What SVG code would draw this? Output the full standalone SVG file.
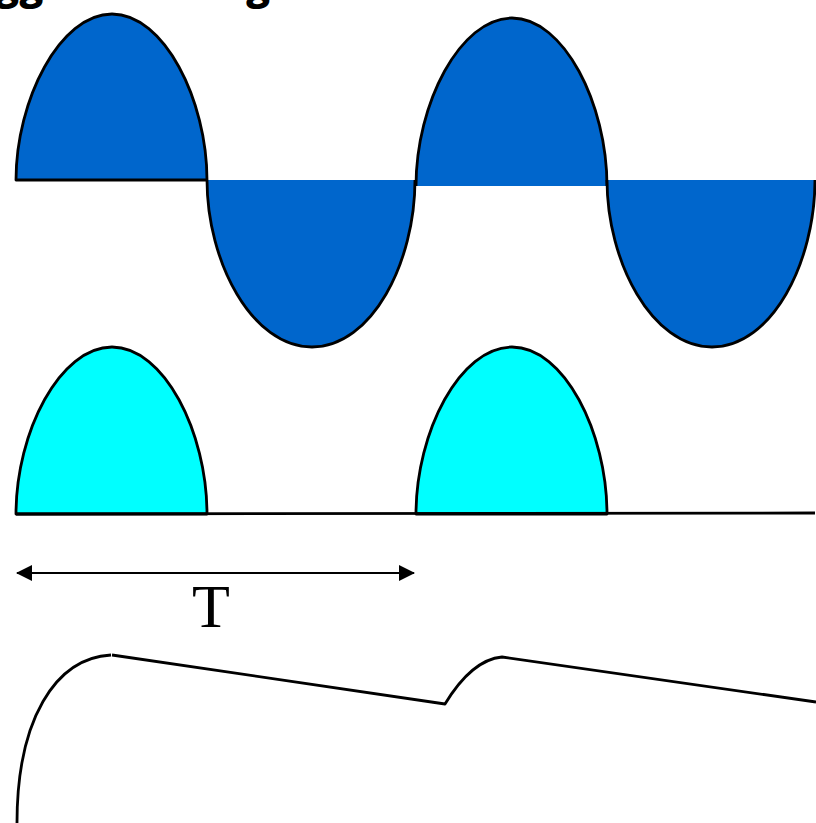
<svg xmlns="http://www.w3.org/2000/svg" width="816" height="823" viewBox="0 0 816 823">
<style>
.lbl{font-family:"Open Sans","DejaVu Sans",sans-serif;font-weight:800;font-size:40px;fill:#000}
.wave{stroke:#000;stroke-width:2.8;stroke-linejoin:round}
.blue{fill:#0066CC}
.cyan{fill:#00FFFF}
.line{fill:none;stroke:#000;stroke-width:2.8;stroke-linejoin:round}
.t{font-family:"Liberation Serif","Times New Roman",serif;font-size:62px;fill:#000}
</style>
<defs>
<marker id="ah" viewBox="0 0 16 16" refX="15" refY="8" markerWidth="16" markerHeight="16" markerUnits="userSpaceOnUse" orient="auto-start-reverse">
<path d="M0,0 L16,8 L0,16 Z" fill="#000"/>
</marker>
</defs>
<rect width="816" height="823" fill="#fff"/>
<g id="title">
<text class="lbl" x="-5" y="-1">gg</text>
<text class="lbl" x="246" y="-1">g</text>
</g>
<g id="ac-wave">
<path class="blue wave" d="M16,180 C16,100 60,14 112,14 C164,14 207,100 207,180 Z"/>
<path class="blue" stroke="none" d="M207,180 C207,262 252,347 312,347 C372,347 415,262 415,180 Z"/>
<path class="wave" fill="none" d="M207,180 C207,262 252,347 312,347 C372,347 415,262 415,180"/>
<path class="blue" stroke="none" d="M416,186 C416,104 460,18 512,18 C564,18 607,104 607,186 Z"/>
<path class="wave" fill="none" d="M416,186 C416,104 460,18 512,18 C564,18 607,104 607,186"/>
<path class="blue" stroke="none" d="M607,180 C607,262 652,347 712,347 C772,347 815,262 815,180 Z"/>
<path class="wave" fill="none" d="M607,180 C607,262 652,347 712,347 C772,347 815,262 815,180"/>
</g>
<g id="rectified-wave">
<path class="cyan wave" d="M16,514 C16,432 60,347 112,347 C164,347 207,432 207,514 Z"/>
<path class="cyan wave" d="M416,514 C416,432 460,347 512,347 C564,347 607,432 607,514 Z"/>
<path class="line" d="M16,514 L815,513"/>
</g>
<g id="connectors">
<line x1="17" y1="573" x2="414" y2="573" stroke="#000" stroke-width="2" marker-start="url(#ah)" marker-end="url(#ah)"/>
</g>
<g id="period-label">
<text class="t" x="211" y="627" text-anchor="middle">T</text>
</g>
<g id="smoothed-output">
<path class="line" d="M17,823 C17,720 55,658 111,655"/>
<path class="line" d="M112,655 L445,704 C462,676 480,659 502,657 L816,702"/>
</g>
</svg>
